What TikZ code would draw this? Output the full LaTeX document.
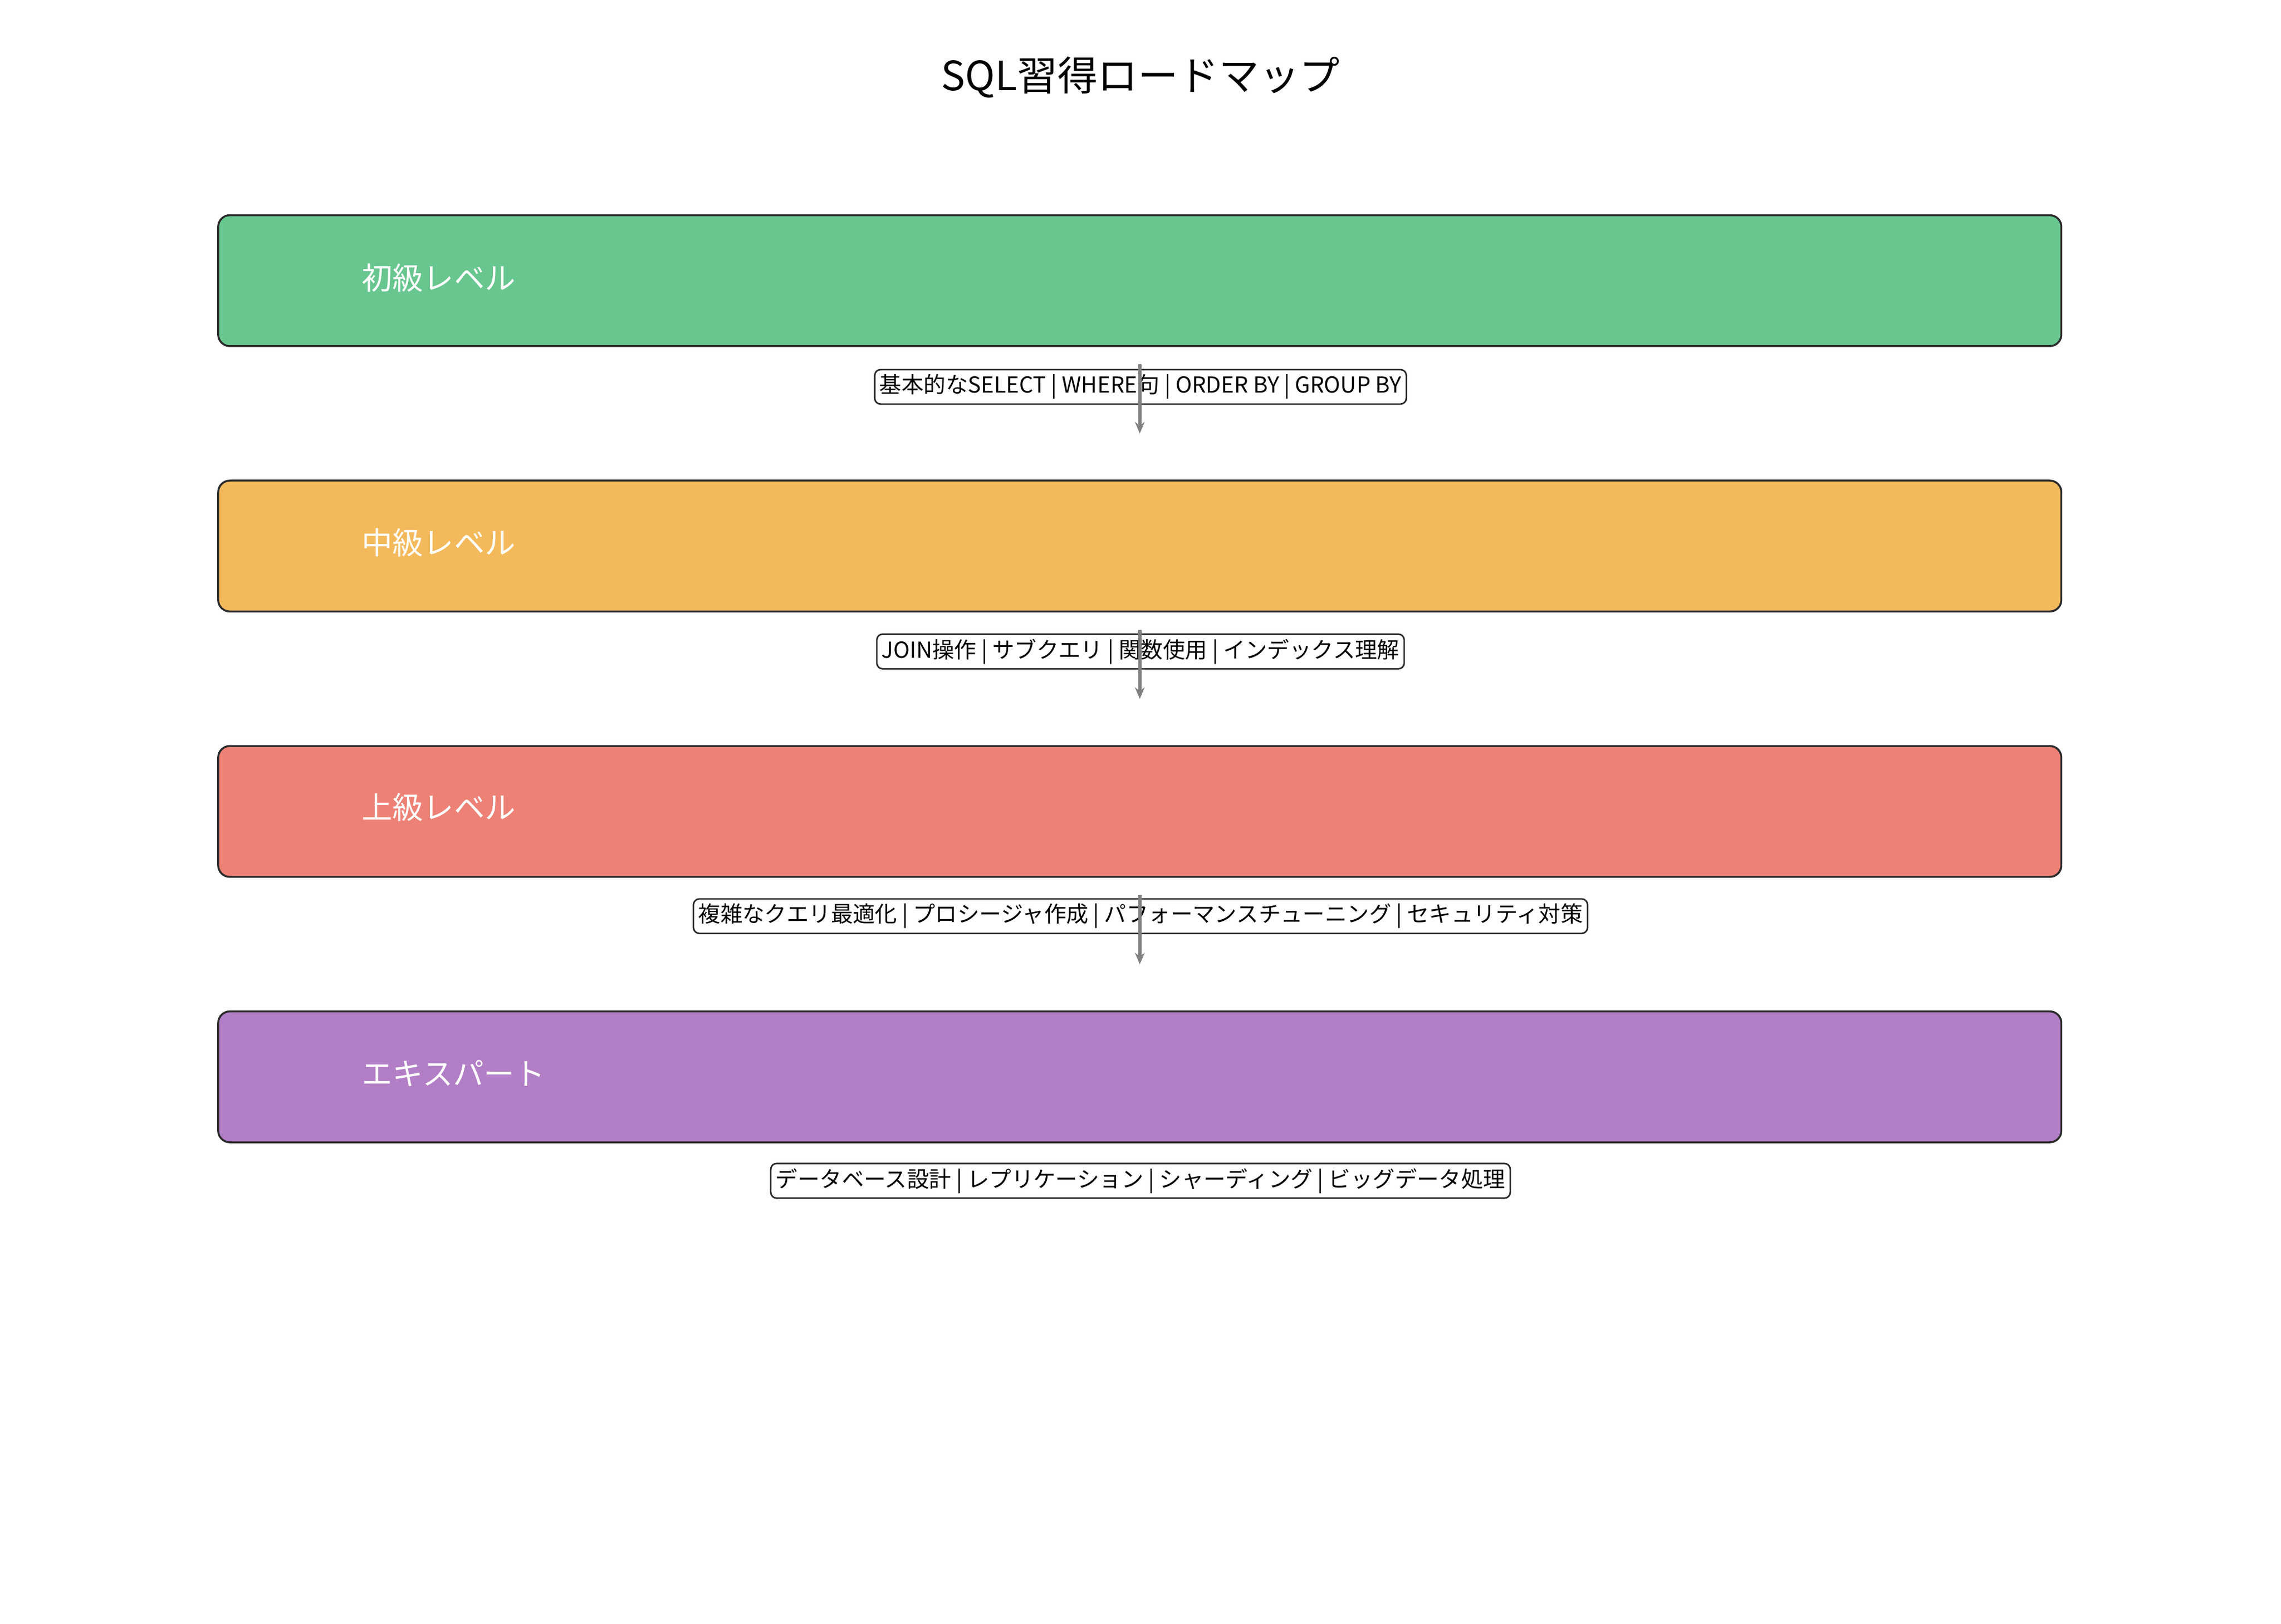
\documentclass[tikz,border=0pt]{standalone}
\usepackage{fontspec}
\setmainfont{Noto Sans CJK JP}
\usetikzlibrary{arrows.meta}
\definecolor{cg}{HTML}{68C68F}
\definecolor{co}{HTML}{F4B95B}
\definecolor{cr}{HTML}{EE8176}
\definecolor{cp}{HTML}{B27EC6}
\definecolor{edge}{HTML}{2A2A2A}
\begin{document}
\begin{tikzpicture}[x=0.0266cm,y=-0.0266cm,
  level/.style={draw=edge,line width=1pt,rounded corners=6pt,minimum width=1267*0.0266cm,minimum height=90*0.0266cm,inner sep=0pt},
  lvtext/.style={anchor=west,text=white,font=\fontsize{16}{18}\selectfont},
  tag/.style={draw=edge,fill=white,line width=0.8pt,rounded corners=3pt,inner sep=2.5pt,font=\fontsize{11.5}{13}\selectfont},
  conn/.style={draw=gray,line width=1.8pt,-{Stealth[length=6pt,width=5pt]},shorten <=9pt,shorten >=24pt}]
\useasboundingbox (0,0) rectangle (1568,1116.6);
\node[font=\fontsize{21}{24}\selectfont] (title) at (784,53) {SQL習得ロードマップ};
\node[level,fill=cg] (b1) at (783.5,193) {};
\node[level,fill=co] (b2) at (783.5,375.5) {};
\node[level,fill=cr] (b3) at (783.5,558) {};
\node[level,fill=cp] (b4) at (783.5,740.5) {};
\node[lvtext] (t1) at (244,191) {初級レベル};
\node[lvtext] (t2) at (244,373) {中級レベル};
\node[lvtext] (t3) at (244,555) {上級レベル};
\node[lvtext] (t4) at (244,738) {エキスパート};
\node[tag] (l1) at (784,266) {基本的なSELECT | WHERE句 | ORDER BY | GROUP BY};
\node[tag] (l2) at (784,448) {JOIN操作 | サブクエリ | 関数使用 | インデックス理解};
\node[tag] (l3) at (784,630) {複雑なクエリ最適化 | プロシージャ作成 | パフォーマンスチューニング | セキュリティ対策};
\node[tag] (l4) at (784,812) {データベース設計 | レプリケーション | シャーディング | ビッグデータ処理};
\draw[conn] (b1) -- (b2);
\draw[conn] (b2) -- (b3);
\draw[conn] (b3) -- (b4);
\end{tikzpicture}
\end{document}
